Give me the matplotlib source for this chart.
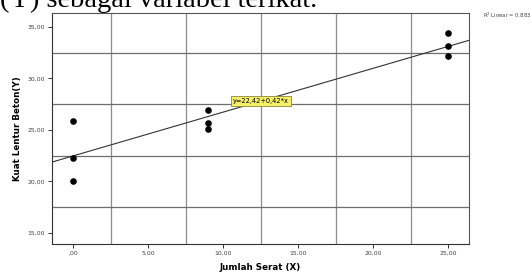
import numpy as np
import matplotlib.pyplot as plt

# Data: jumlah serat (X) vs kuat lentur beton (Y)
serat = [0, 0, 0, 9, 9, 9, 25, 25, 25]
kuat_lentur = [25.9, 22.3, 20.0, 26.9, 25.7, 25.1, 34.4, 33.1, 32.2]
x_ticks = [0, 5, 10, 15, 20, 25]
x_tick_labels = [',00', '5,00', '10,00', '15,00', '20,00', '25,00']
y_ticks = [15, 20, 25, 30, 35]
y_tick_labels = ['15,00', '20,00', '25,00', '30,00', '35,00']
persamaan = 'y=22,42+0,42*x'
r2_text = 'R$^2$ Linear = 0.883'

fig = plt.figure(figsize=(5.32, 2.77), dpi=100)
ax = fig.add_axes([0.0977, 0.119, 0.7839, 0.834])

xmin, xmax = -1.42, 26.4
ymin, ymax = 13.93, 36.33
ax.set_xlim(xmin, xmax)
ax.set_ylim(ymin, ymax)

# grid di posisi tengah
for gx in [2.5, 7.5, 12.5, 17.5, 22.5]:
    ax.axvline(gx, color='#8c8c8c', lw=0.9, zorder=1)
for gy in [17.5, 22.5, 27.5, 32.5]:
    ax.axhline(gy, color='#6e6e6e', lw=0.9, zorder=1)

# garis regresi
b, a = np.polyfit(serat, kuat_lentur, 1)
xs = np.array([xmin, xmax])
ax.plot(xs, a + b * xs, color='#333333', lw=0.8, zorder=2)

ax.scatter(serat, kuat_lentur, s=14, color='black', zorder=3)

ax.text(12.5, 27.8, persamaan, fontsize=4.8, ha='center', va='center',
        bbox=dict(boxstyle='square,pad=0.3', fc='#f5ef6a', ec='#8a8a3a', lw=0.6), zorder=4)

ax.set_xticks(x_ticks)
ax.set_xticklabels(x_tick_labels)
ax.set_yticks(y_ticks)
ax.set_yticklabels(y_tick_labels)
ax.tick_params(direction='out', length=3, width=0.7, labelsize=4.4,
               labelcolor='#444444', color='#333333', pad=2)
for s in ['left', 'bottom']:
    ax.spines[s].set_color('#333333')
    ax.spines[s].set_linewidth(0.8)
for s in ['top', 'right']:
    ax.spines[s].set_color('#555555')
    ax.spines[s].set_linewidth(0.8)

ax.set_xlabel('Jumlah Serat (X)', fontsize=6.3, fontweight='bold', labelpad=5)
ax.set_ylabel('Kuat Lentur Beton(Y)', fontsize=6.3, fontweight='bold', labelpad=4)

fig.text(0.908, 0.943, r2_text, fontsize=3.8, color='#444444', va='center')

# potongan teks dokumen di atas grafik
fig.text(0.0, 0.975, '(Y) sebagai variabel terikat.', fontsize=20.5,
         family='Liberation Serif', va='baseline', ha='left')

plt.savefig('out.png', dpi=100)
